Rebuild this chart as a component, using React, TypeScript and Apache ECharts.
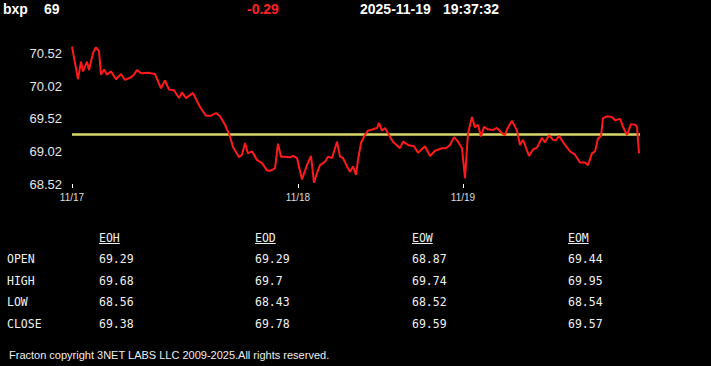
import React, { useEffect, useRef } from "react";
import * as echarts from "echarts";

// ---- data ----
const symbol = "bxp";
const lastPrice = "69";
const change = "-0.29";
const dateText = "2025-11-19";
const timeText = "19:37:32";
const openPrice = 69.29;

const dayLabels = ["11/17", "11/18", "11/19"];
const dayStarts = [0, 226, 391];
const yTicks = [68.52, 69.02, 69.52, 70.02, 70.52];

// session index (x) and price (y)
const xIdx = [
  0, 6, 9, 11, 15, 17, 21, 24, 27, 29, 32, 35, 39, 44, 49, 53, 59, 62, 65, 69,
  76, 83, 89, 93, 97, 102, 107, 110, 114, 121, 126, 129, 134, 139, 144, 148, 153, 158, 161, 167,
  170, 173, 176, 180, 185, 190, 195, 198, 203, 206, 209, 213, 218, 221, 225, 230, 235, 239, 242, 245,
  248, 253, 256, 260, 265, 268, 271, 275, 278, 281, 284, 286, 289, 292, 296, 301, 305, 307, 310, 313,
  316, 321, 328, 331, 336, 342, 346, 353, 358, 363, 370, 374, 378, 382, 386, 390, 393, 396, 400, 403,
  406, 409, 412, 416, 421, 425, 430, 433, 435, 440, 445, 448, 451, 457, 461, 465, 470, 473, 477, 481,
  484, 487, 493, 498, 503, 508, 513, 516, 520, 523, 526, 529, 531, 535, 540, 543, 548, 551, 555, 559,
  563, 565, 567,
];
const prices = [
  70.63, 70.13, 70.4, 70.25, 70.4, 70.27, 70.53, 70.62, 70.56, 70.2, 70.28, 70.2, 70.25, 70.13, 70.21, 70.12, 70.16, 70.2, 70.27, 70.22,
  70.23, 70.21, 69.99, 70.11, 69.97, 69.96, 69.84, 69.93, 69.84, 69.92, 69.76, 69.68, 69.57, 69.57, 69.61, 69.56, 69.43, 69.25, 69.09, 68.93,
  68.97, 69.15, 68.99, 69.02, 68.89, 68.84, 68.73, 68.72, 68.76, 69.14, 68.94, 68.94, 68.93, 68.95, 68.92, 68.59, 68.81, 68.95, 68.54, 68.69,
  68.81, 68.86, 68.94, 68.92, 69.17, 68.94, 68.92, 68.79, 68.71, 68.79, 68.66, 68.89, 69.15, 69.25, 69.34, 69.36, 69.38, 69.46, 69.34, 69.38,
  69.3, 69.17, 69.07, 69.17, 69.12, 69.1, 69.0, 69.1, 68.95, 69.03, 69.07, 69.07, 69.12, 69.24, 69.17, 69.07, 68.61, 69.3, 69.55, 69.39,
  69.43, 69.25, 69.4, 69.36, 69.35, 69.38, 69.3, 69.27, 69.36, 69.49, 69.34, 69.12, 69.2, 68.95, 69.05, 69.08, 69.23, 69.16, 69.27, 69.2,
  69.19, 69.26, 69.12, 69.02, 68.97, 68.85, 68.85, 68.81, 68.99, 69.02, 69.22, 69.25, 69.53, 69.56, 69.55, 69.5, 69.52, 69.4, 69.27, 69.44,
  69.43, 69.4, 68.99,
];

const rowLabels = ["OPEN", "HIGH", "LOW", "CLOSE"];
const periods = ["EOH", "EOD", "EOW", "EOM"];
const eoh = [69.29, 69.68, 68.56, 69.38];
const eod = [69.29, 69.7, 68.43, 69.78];
const eow = [68.87, 69.74, 68.52, 69.59];
const eom = [69.44, 69.95, 68.54, 69.57];
const tableValues = [eoh, eod, eow, eom];

const footer = "Fracton copyright 3NET LABS LLC 2009-2025.All rights reserved.";

export default function App() {
  const ref = useRef<HTMLDivElement>(null);

  useEffect(() => {
    document.body.style.margin = "0";
    document.body.style.background = "#000";
    if (!ref.current) return;
    const chart = echarts.init(ref.current, undefined, { renderer: "svg" });

    const monoFont = "'DejaVu Sans Mono', monospace";
    const monoSize = 11.5;
    const colX = [99, 255, 412, 568];
    const rowY = [259, 281, 302, 324];
    const headerY = 238;
    const textColor = "#f0f0f0";

    const graphics: any[] = [];
    const headerFont = "bold 14px 'Liberation Sans', Arial, sans-serif";
    const hdr = (text: string, x: number, fill: string) => ({
      type: "text",
      x,
      y: 9,
      style: { text, fill, font: headerFont, verticalAlign: "middle", align: "left" },
    });
    graphics.push(hdr(symbol, 3, "#ffffff"));
    graphics.push(hdr(lastPrice, 44, "#ffffff"));
    graphics.push(hdr(change, 247, "#ff2020"));
    graphics.push(hdr(dateText, 360, "#ffffff"));
    graphics.push(hdr(timeText, 443, "#ffffff"));

    periods.forEach((p, i) => {
      graphics.push({
        type: "text",
        x: colX[i],
        y: headerY,
        style: { text: p, fill: textColor, font: `${monoSize}px ${monoFont}`, verticalAlign: "middle" },
      });
      graphics.push({
        type: "line",
        shape: { x1: colX[i], y1: 243.5, x2: colX[i] + p.length * monoSize * 0.602, y2: 243.5 },
        style: { stroke: textColor, lineWidth: 1 },
      });
    });
    rowLabels.forEach((r, j) => {
      graphics.push({
        type: "text",
        x: 7,
        y: rowY[j],
        style: { text: r, fill: textColor, font: `${monoSize}px ${monoFont}`, verticalAlign: "middle" },
      });
      tableValues.forEach((col, i) => {
        graphics.push({
          type: "text",
          x: colX[i],
          y: rowY[j],
          style: { text: String(col[j]), fill: textColor, font: `${monoSize}px ${monoFont}`, verticalAlign: "middle" },
        });
      });
    });
    graphics.push({
      type: "text",
      x: 9,
      y: 355,
      style: { text: footer, fill: "#eeeeee", font: "11px 'Liberation Sans', Arial, sans-serif", verticalAlign: "middle" },
    });

    chart.setOption({
      animation: false,
      backgroundColor: "#000000",
      grid: { left: 72, right: 71, top: 46, bottom: 182 },
      xAxis: {
        type: "value",
        min: 0,
        max: 568,
        axisLine: { show: false },
        splitLine: { show: false },
        axisTick: { show: true, length: 4, customValues: dayStarts, lineStyle: { color: "#ffffff", width: 1 } },
        axisLabel: {
          customValues: dayStarts,
          color: "#dddddd",
          fontSize: 10,
          fontFamily: "'Liberation Sans', Arial, sans-serif",
          margin: 8,
          formatter: (v: number) => {
            const k = dayStarts.indexOf(v);
            return k >= 0 ? dayLabels[k] : "";
          },
        },
      },
      yAxis: {
        type: "value",
        min: 68.52,
        max: 70.64,
        axisLine: { show: false },
        axisTick: { show: false },
        splitLine: { show: false },
        axisLabel: {
          customValues: yTicks,
          color: "#e6e6e6",
          fontSize: 13,
          fontFamily: "'Liberation Sans', Arial, sans-serif",
          margin: 10,
          formatter: (v: number) => v.toFixed(2),
        },
      },
      series: [
        {
          type: "line",
          data: xIdx.map((x, i) => [x, prices[i]]),
          showSymbol: false,
          clip: false,
          lineStyle: { color: "#ff1a1a", width: 2 },
          z: 3,
          markLine: {
            silent: true,
            symbol: "none",
            label: { show: false },
            lineStyle: { color: "#d8d86a", width: 2.5, type: "solid" },
            data: [{ yAxis: openPrice }],
            z: 2,
          },
        },
      ],
      graphic: graphics,
    });

    return () => chart.dispose();
  }, []);

  return <div ref={ref} style={{ width: 711, height: 366, background: "#000" }} />;
}
